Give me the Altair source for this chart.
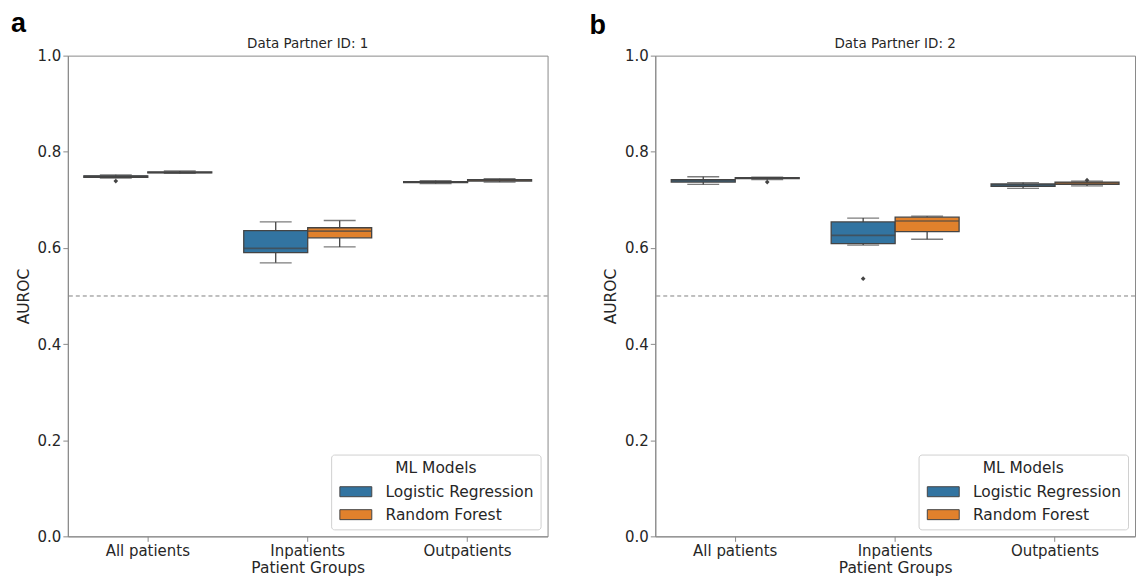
import altair as alt
import pandas as pd

# ---- data ----
groups = ["All patients", "Inpatients", "Outpatients"]
models = ["Logistic Regression", "Random Forest"]

# order: (All LR, All RF, Inp LR, Inp RF, Out LR, Out RF)
p1_wlo = [0.745, 0.755, 0.569, 0.602, 0.734, 0.737]
p1_q1  = [0.747, 0.756, 0.590, 0.621, 0.736, 0.739]
p1_med = [0.749, 0.757, 0.599, 0.635, 0.737, 0.741]
p1_q3  = [0.750, 0.758, 0.636, 0.642, 0.738, 0.742]
p1_whi = [0.752, 0.760, 0.654, 0.657, 0.740, 0.744]

p2_wlo = [0.732, 0.742, 0.606, 0.618, 0.724, 0.729]
p2_q1  = [0.737, 0.744, 0.609, 0.634, 0.728, 0.732]
p2_med = [0.740, 0.745, 0.626, 0.656, 0.731, 0.735]
p2_q3  = [0.742, 0.746, 0.654, 0.664, 0.733, 0.737]
p2_whi = [0.748, 0.747, 0.662, 0.666, 0.736, 0.739]

out_partner = [1, 2, 2, 2]
out_group = ["All patients", "All patients", "Inpatients", "Outpatients"]
out_model = ["Logistic Regression", "Random Forest", "Logistic Regression", "Random Forest"]
out_value = [0.739, 0.737, 0.536, 0.741]

panel_titles = ["Data Partner ID: 1", "Data Partner ID: 2"]
panel_letters = ["a", "b"]

BLUE = "#3274a1"
ORANGE = "#e1812c"
EDGE = "#444444"
FRAME = "#8a8a8a"
FONT = "DejaVu Sans"
W, H = 481, 482


def stats_frame(wlo, q1, med, q3, whi):
    rows = []
    i = 0
    for g in groups:
        for m in models:
            rows.append(dict(group=g, model=m, wlo=wlo[i], q1=q1[i], med=med[i], q3=q3[i], whi=whi[i]))
            i += 1
    return pd.DataFrame(rows)


outliers = pd.DataFrame(dict(partner=out_partner, group=out_group, model=out_model, value=out_value))


def panel(pid, df, title, letter, letter_dx, letter_dy):
    x = alt.X("group:N", sort=groups,
              scale=alt.Scale(paddingInner=0.2, paddingOuter=0.1),
              axis=alt.Axis(title="Patient Groups", labelAngle=0, labelFontSize=15,
                            titleFontSize=15.5, titleFontWeight="normal", labelPadding=2,
                            titlePadding=2, tickSize=5, domainColor=FRAME, tickColor=FRAME,
                            labelColor="#262626", titleColor="#262626"))
    xo = alt.XOffset("model:N", sort=models, scale=alt.Scale(paddingInner=0, paddingOuter=0))
    yax = alt.Axis(title="AUROC", values=[0, 0.2, 0.4, 0.6, 0.8, 1.0], format=".1f", grid=False,
                   labelFontSize=15, titleFontSize=15.5, titleFontWeight="normal", labelPadding=2,
                   titlePadding=6, tickSize=5, domainColor=FRAME, tickColor=FRAME,
                   labelColor="#262626", titleColor="#262626")
    yscale = alt.Scale(domain=[0, 1], nice=False, zero=False)

    base = alt.Chart(df)

    boxes = base.mark_bar(stroke=EDGE, strokeWidth=1.3, opacity=1).encode(
        x=x, xOffset=xo,
        y=alt.Y("q1:Q", scale=yscale, axis=yax),
        y2="q3:Q",
        color=alt.Color("model:N", sort=models,
                        scale=alt.Scale(domain=models, range=[BLUE, ORANGE]),
                        legend=alt.Legend(title="ML Models", orient="bottom-right", offset=7,
                                          titleFontSize=15.5, labelFontSize=15.5,
                                          titleFontWeight="normal", titleAnchor="middle",
                                          titleColor="#262626", labelColor="#262626",
                                          fillColor="white", strokeColor="#d0d0d0",
                                          cornerRadius=3, padding=6, titlePadding=8,
                                          rowPadding=6,
                                          symbolType="M-1,-1h6.4v2h-6.4z",
                                          symbolSize=100, symbolStrokeColor=EDGE,
                                          symbolStrokeWidth=1, symbolOpacity=1,
                                          labelOffset=33)),
    )
    wlo = base.mark_rule(color=EDGE, strokeWidth=1.3).encode(
        x=x, xOffset=xo, y=alt.Y("wlo:Q", scale=yscale), y2="q1:Q")
    whi = base.mark_rule(color=EDGE, strokeWidth=1.3).encode(
        x=x, xOffset=xo, y=alt.Y("q3:Q", scale=yscale), y2="whi:Q")
    cap_lo = base.mark_tick(color=EDGE, size=32, thickness=1.3, orient="horizontal").encode(
        x=x, xOffset=xo, y=alt.Y("wlo:Q", scale=yscale))
    cap_hi = base.mark_tick(color=EDGE, size=32, thickness=1.3, orient="horizontal").encode(
        x=x, xOffset=xo, y=alt.Y("whi:Q", scale=yscale))
    med = base.mark_tick(color=EDGE, size=64, thickness=1.6, orient="horizontal").encode(
        x=x, xOffset=xo, y=alt.Y("med:Q", scale=yscale))

    fl = alt.Chart(outliers[outliers.partner == pid]).mark_point(
        shape="diamond", filled=True, color=EDGE, size=22, opacity=1).encode(
        x=x, xOffset=xo, y=alt.Y("value:Q", scale=yscale))

    ref = alt.Chart(pd.DataFrame({"v": [0.5]})).mark_rule(
        color="#808080", strokeDash=[4, 3], strokeWidth=1).encode(y=alt.Y("v:Q", scale=yscale))

    lab = alt.Chart(pd.DataFrame({"t": [letter]})).mark_text(
        fontSize=27, fontWeight="bold", align="left", baseline="alphabetic",
        font="Liberation Sans", color="black").encode(
        text="t:N", x=alt.value(letter_dx), y=alt.value(letter_dy))

    ttl = alt.Chart(pd.DataFrame({"t": [title]})).mark_text(
        fontSize=13.5, align="center", baseline="alphabetic", font=FONT, color="#262626").encode(
        text="t:N", x=alt.value(W / 2), y=alt.value(-8))

    return alt.layer(ref, wlo, whi, cap_lo, cap_hi, boxes, med, fl, lab, ttl).properties(
        width=W, height=H)


df1 = stats_frame(p1_wlo, p1_q1, p1_med, p1_q3, p1_whi)
df2 = stats_frame(p2_wlo, p2_q1, p2_med, p2_q3, p2_whi)

chart = alt.hconcat(
    panel(1, df1, panel_titles[0], panel_letters[0], -57, -24),
    panel(2, df2, panel_titles[1], panel_letters[1], -66, -22),
    spacing=40,
).resolve_scale(color="independent").resolve_legend(color="independent").properties(
    padding={"left": 2, "top": 0, "right": 0, "bottom": 0}
).configure(font=FONT).configure_view(stroke=FRAME, strokeWidth=1).configure_axis(
    labelFont=FONT, titleFont=FONT)

chart.save("out.html", embed_options={"renderer": "svg", "actions": False})
